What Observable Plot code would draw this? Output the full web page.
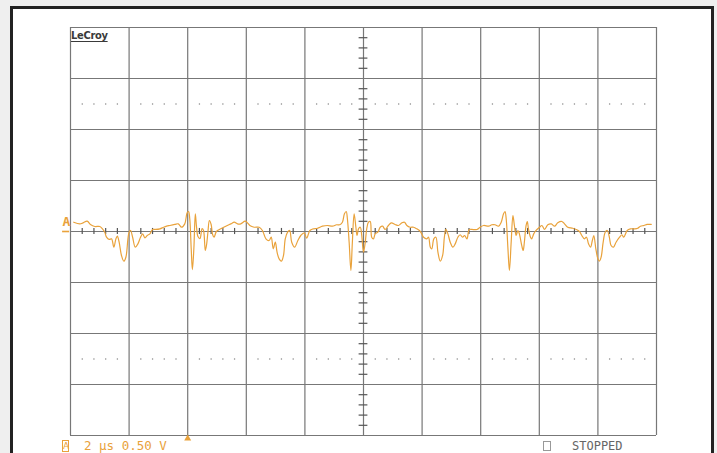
<!DOCTYPE html>
<html>
<head>
<meta charset="utf-8">
<script src="https://cdn.jsdelivr.net/npm/d3@7"></script>
<script src="https://cdn.jsdelivr.net/npm/@observablehq/plot@0.6"></script>
<style>
  html, body { margin: 0; padding: 0; background: #efefef; }
  #wrap { position: relative; width: 717px; height: 453px; overflow: hidden; }
  #frame { position: absolute; left: 10px; top: 6px; width: 698px; height: 470px;
           border-left: 3px solid #222; border-top: 3px solid #222; border-right: 3px solid #222;
           background: #fff; }
  #chart { position: absolute; left: 0; top: 0; }
  .lbl { position: absolute; font-family: "DejaVu Sans Mono", monospace; white-space: nowrap; }
  #brand { left: 71px; top: 29px; font-family: "DejaVu Sans Condensed", "DejaVu Sans", sans-serif;
           font-weight: bold; font-size: 11px; color: #3a3a3a; text-decoration: underline;
           text-underline-offset: 2px; letter-spacing: -0.3px; }
  #chbox { left: 62px; top: 440px; width: 5px; height: 10px; border: 1px solid #e9a23b;
           font-size: 9px; line-height: 10px; color: #e9a23b; text-align: center; font-family: "DejaVu Sans", sans-serif; }
  #scale { left: 84px; top: 438px; font-size: 12.5px; color: #e9a23b; }
  #sq { left: 543px; top: 441px; width: 6px; height: 8px; border: 1px solid #999; }
  #stopped { left: 572px; top: 439px; font-size: 12px; color: #666; }
</style>
</head>
<body>
<div id="wrap">
  <div id="frame"></div>
  <div id="chart"></div>
  <div class="lbl" id="brand">LeCroy</div>
  <div class="lbl" id="chbox">A</div>
  <div class="lbl" id="scale">2 µs 0.50 V</div>
  <div class="lbl" id="sq"></div>
  <div class="lbl" id="stopped">STOPPED</div>
</div>
<script>
// Trace: time in µs, voltage in V (channel A, 2 µs/div, 0.50 V/div)
const timeUs = [0.11,0.32,0.43,0.57,0.68,0.83,1.00,1.09,1.17,1.23,1.32,1.40,1.48,1.55,1.60,1.66,1.74,1.82,1.89,1.96,
2.00,2.05,2.12,2.21,2.30,2.39,2.46,2.54,2.62,2.71,2.80,2.91,3.05,3.18,3.28,3.39,3.56,3.68,3.79,3.90,
3.98,4.03,4.07,4.12,4.16,4.21,4.26,4.30,4.35,4.42,4.49,4.54,4.60,4.64,4.69,4.74,4.80,4.85,4.90,4.98,
5.13,5.30,5.47,5.59,5.70,5.81,5.96,6.04,6.12,6.27,6.44,6.55,6.67,6.78,6.85,6.92,6.99,7.05,7.12,7.20,
7.27,7.33,7.41,7.48,7.55,7.65,7.76,7.86,7.98,8.06,8.17,8.28,8.43,8.60,8.77,8.94,9.08,9.19,9.28,9.35,
9.41,9.45,9.51,9.57,9.62,9.68,9.74,9.78,9.83,9.89,9.94,10.00,10.06,10.11,10.17,10.23,10.28,10.34,10.40,10.49,
10.57,10.65,10.74,10.85,10.95,11.08,11.19,11.31,11.40,11.48,11.59,11.71,11.82,11.94,12.05,12.16,12.22,12.28,12.33,12.40,
12.47,12.54,12.62,12.70,12.76,12.81,12.88,12.96,13.05,13.13,13.22,13.30,13.38,13.45,13.53,13.61,13.70,13.87,13.98,14.10,
14.27,14.38,14.49,14.61,14.70,14.78,14.83,14.87,14.93,14.98,15.04,15.10,15.15,15.21,15.27,15.32,15.40,15.45,15.49,15.55,
15.59,15.63,15.70,15.74,15.81,15.89,16.01,16.09,16.18,16.29,16.41,16.52,16.63,16.77,16.86,16.97,17.14,17.26,17.37,17.45,
17.54,17.61,17.68,17.75,17.81,17.86,17.93,18.00,18.05,18.11,18.18,18.25,18.32,18.39,18.45,18.53,18.62,18.74,18.82,18.88,
19.00,19.11,19.25,19.36,19.45,19.57,19.68,19.82];
const voltsV = [0.091,0.075,0.085,0.101,0.069,0.049,0.049,0.026,-0.007,-0.056,-0.078,-0.072,-0.154,-0.072,-0.046,-0.105,-0.235,-0.291,-0.252,-0.072,
-0.007,0.010,-0.056,-0.154,-0.121,-0.056,-0.023,-0.062,-0.039,-0.023,0.020,0.020,0.026,0.042,0.052,0.059,0.069,0.075,0.042,0.075,
0.183,0.196,0.125,-0.170,-0.373,-0.170,0.172,0.049,-0.049,-0.069,0.029,0.010,-0.186,-0.137,-0.007,0.108,0.069,-0.029,-0.056,0.000,
0.026,0.052,0.075,0.091,0.075,0.075,0.101,0.085,0.059,0.042,0.042,0.010,-0.072,-0.088,-0.056,-0.170,-0.105,-0.203,-0.268,-0.291,
-0.235,-0.072,-0.007,0.010,-0.105,-0.154,-0.088,-0.039,-0.013,-0.066,0.010,0.026,0.032,0.052,0.059,0.052,0.066,0.066,0.091,0.174,
0.196,0.125,-0.105,-0.382,-0.105,0.174,0.042,-0.039,0.026,0.042,-0.039,-0.203,-0.105,0.026,0.091,0.098,-0.056,-0.072,-0.023,-0.007,
0.042,0.052,0.020,0.059,0.085,0.069,0.059,0.085,0.091,0.059,0.042,0.042,0.026,0.000,-0.056,-0.072,-0.056,-0.154,-0.170,-0.072,
-0.056,-0.203,-0.291,-0.235,-0.056,0.020,-0.023,-0.105,-0.154,-0.121,-0.056,-0.032,-0.056,-0.039,-0.072,0.020,0.020,0.020,0.042,0.059,
0.052,0.066,0.066,0.052,0.091,0.174,0.196,0.125,-0.170,-0.382,-0.105,0.157,0.059,-0.039,0.010,-0.023,-0.137,-0.186,-0.105,0.059,
0.098,0.026,-0.056,-0.072,-0.023,0.010,0.042,0.059,0.020,0.066,0.075,0.052,0.085,0.098,0.075,0.042,0.032,0.020,0.000,-0.039,
-0.072,-0.056,-0.121,-0.154,-0.088,-0.039,-0.170,-0.268,-0.291,-0.252,-0.105,-0.007,0.010,-0.056,-0.137,-0.154,-0.105,-0.056,-0.032,-0.056,
0.010,0.026,0.026,0.032,0.052,0.059,0.069,0.069];

// Screen settings
const timeGrid = [0,2,4,6,8,10,12,14,16,18,20];          // µs, 2 µs/div
const voltGrid = [-2,-1.5,-1,-0.5,0,0.5,1,1.5,2];         // V, 0.50 V/div
const triggerUs = [4];
const dotRowsV = [1.25, -1.25];

const trace = timeUs.map((t, i) => ({t, v: voltsV[i]}));
const minorT = d3.range(0, 20.001, 0.4).filter(t => Math.abs(t / 2 - Math.round(t / 2)) > 1e-6);
const minorV = d3.range(-2, 2.001, 0.1).filter(v => Math.abs(v / 0.5 - Math.round(v / 0.5)) > 1e-6);
const dotPts = dotRowsV.flatMap(v => minorT.map(t => ({t, v})));

const orange = "#e9a23b";
const gridC = "#777";

const chart = Plot.plot({
  width: 717, height: 453,
  marginLeft: 70, marginRight: 61, marginTop: 27, marginBottom: 18,
  x: {domain: [0, 20], axis: null},
  y: {domain: [-2, 2], axis: null},
  style: {background: "transparent", overflow: "visible"},
  marks: [
    Plot.ruleX(timeGrid, {stroke: gridC, strokeWidth: 1.2}),
    Plot.ruleY(voltGrid, {stroke: gridC, strokeWidth: 1.2}),
    Plot.ruleX(minorT, {y1: -0.03, y2: 0.03, stroke: "#555", strokeWidth: 1.2}),
    Plot.ruleY(minorV, {x1: 9.85, x2: 10.15, stroke: "#555", strokeWidth: 1.2}),
    Plot.dot(dotPts, {x: "t", y: "v", r: 0.75, fill: "#8a8a8a", stroke: null}),
    Plot.line(trace, {x: "t", y: "v", stroke: orange, strokeWidth: 1.2, curve: "catmull-rom"}),
    Plot.dot(triggerUs, {x: d => d, y: -2, symbol: "triangle", r: 2.6, fill: orange, stroke: null, dy: 3}),
    Plot.text([0], {x: d => d, y: 0, text: () => "A", dx: -4, dy: -10, fill: orange, fontSize: 13, fontWeight: "bold", fontFamily: "DejaVu Sans Mono"}),
    Plot.ruleY([0], {x1: -0.27, x2: -0.03, dy: 0, stroke: orange, strokeWidth: 1.6})
  ]
});
document.getElementById("chart").appendChild(chart);
</script>
</body>
</html>
